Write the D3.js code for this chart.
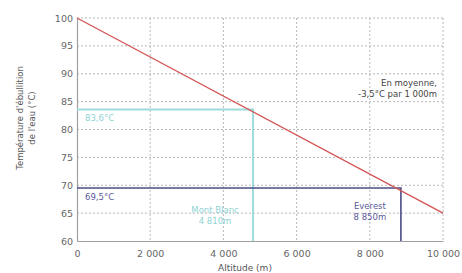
<!DOCTYPE html>
<html>
<head>
<meta charset="utf-8">
<script src="https://cdn.jsdelivr.net/npm/d3@7"></script>
<style>
  body { margin: 0; background: #fff; }
  text { font-family: "DejaVu Sans", sans-serif; }
</style>
</head>
<body>
<div id="chart"></div>
<script>
// boiling point vs altitude
var altitudes = [0, 10000];
var temps = [100, 65];

var xTicks = [0, 2000, 4000, 6000, 8000, 10000];
var yTicks = [60, 65, 70, 75, 80, 85, 90, 95, 100];

var peaks = ["Mont Blanc", "Everest"];
var peakAlt = [4810, 8850];
var peakAltLabel = ["4 810m", "8 850m"];
var peakTemp = [83.6, 69.5];
var peakTempLabel = ["83,6°C", "69,5°C"];
var peakColor = ["#9edcdc", "#4c4c86"];
var peakTextColor = ["#8fd3d3", "#5a5a9c"];

var noteLines = ["En moyenne,", "-3,5°C par 1 000m"];

var margin = {top: 18, right: 19, bottom: 32, left: 77},
    width = 462 - margin.left - margin.right,
    height = 273 - margin.top - margin.bottom;

var svg = d3.select("#chart").append("svg")
    .attr("width", 462)
    .attr("height", 273),
    g = svg.append("g")
        .attr("transform", "translate(" + margin.left + "," + margin.top + ")");

var x = d3.scaleLinear().domain([0, 10000]).range([0, width]);
var y = d3.scaleLinear().domain([60, 100]).range([height, 0]);

var fmt = d3.formatLocale({decimal: ",", thousands: " ", grouping: [3], currency: ["", ""]}).format(",d");

// grid
g.selectAll(".vgrid")
    .data(xTicks.slice(1))
    .enter().append("line")
    .attr("x1", function(d) { return x(d); })
    .attr("x2", function(d) { return x(d); })
    .attr("y1", 0)
    .attr("y2", height)
    .attr("stroke", "#b8b8b8")
    .attr("stroke-dasharray", "2,2");

g.selectAll(".hgrid")
    .data(yTicks.slice(1))
    .enter().append("line")
    .attr("x1", 0)
    .attr("x2", width)
    .attr("y1", function(d) { return y(d); })
    .attr("y2", function(d) { return y(d); })
    .attr("stroke", "#b8b8b8")
    .attr("stroke-dasharray", "2,2");

// axes
var xAxis = g.append("g")
    .attr("transform", "translate(0," + height + ")")
    .call(d3.axisBottom(x).tickValues(xTicks).tickFormat(fmt).tickSize(0).tickPadding(9));
var yAxis = g.append("g")
    .call(d3.axisLeft(y).tickValues(yTicks).tickSize(0).tickPadding(4));

[xAxis, yAxis].forEach(function(a) {
    a.select(".domain").attr("stroke", "#a0a0a0").attr("stroke-width", 1.2);
    a.selectAll("text")
        .attr("fill", "#666")
        .style("font-size", "9.5px")
        .style("font-family", "DejaVu Sans, sans-serif");
});

// peak reference lines
peaks.forEach(function(p, i) {
    g.append("path")
        .attr("d", d3.line()([[x(0), y(peakTemp[i])], [x(peakAlt[i]), y(peakTemp[i])], [x(peakAlt[i]), y(60)]]))
        .attr("fill", "none")
        .attr("stroke", peakColor[i])
        .attr("stroke-width", i == 0 ? 2 : 1.6);

    g.append("text")
        .attr("x", x(0) + 8)
        .attr("y", y(peakTemp[i]) + 12)
        .attr("fill", peakTextColor[i])
        .style("font-size", "8.5px")
        .text(peakTempLabel[i]);

    var lbl = g.append("text")
        .attr("text-anchor", "middle")
        .attr("fill", peakTextColor[i])
        .style("font-size", "8.5px");
    lbl.append("tspan")
        .attr("x", x(peakAlt[i]) - (i == 0 ? 38 : 31))
        .attr("y", i == 0 ? 195 : 191)
        .text(p);
    lbl.append("tspan")
        .attr("x", x(peakAlt[i]) - (i == 0 ? 38 : 31))
        .attr("dy", 11)
        .text(peakAltLabel[i]);
});

// boiling line
g.append("path")
    .datum(altitudes.map(function(a, i) { return [a, temps[i]]; }))
    .attr("d", d3.line()
        .x(function(d) { return x(d[0]); })
        .y(function(d) { return y(d[1]); }))
    .attr("fill", "none")
    .attr("stroke", "#d45454")
    .attr("stroke-width", 1.3);

// note
var note = g.append("text")
    .attr("text-anchor", "end")
    .attr("fill", "#444")
    .style("font-size", "8.5px");
noteLines.forEach(function(t, i) {
    note.append("tspan")
        .attr("x", width - 6)
        .attr("y", 68 + i * 11)
        .text(t);
});

// titles
var yt = svg.append("text")
    .attr("transform", "translate(20,118) rotate(-90)")
    .attr("text-anchor", "middle")
    .attr("fill", "#555")
    .style("font-size", "8.5px");
yt.append("tspan").attr("x", 0).attr("y", 3).text("Température d'ébullition");
yt.append("tspan").attr("x", 0).attr("dy", 12).text("de l'eau (°C)");

svg.append("text")
    .attr("x", 245)
    .attr("y", 271)
    .attr("text-anchor", "middle")
    .attr("fill", "#555")
    .style("font-size", "9px")
    .text("Altitude (m)");
</script>
</body>
</html>
